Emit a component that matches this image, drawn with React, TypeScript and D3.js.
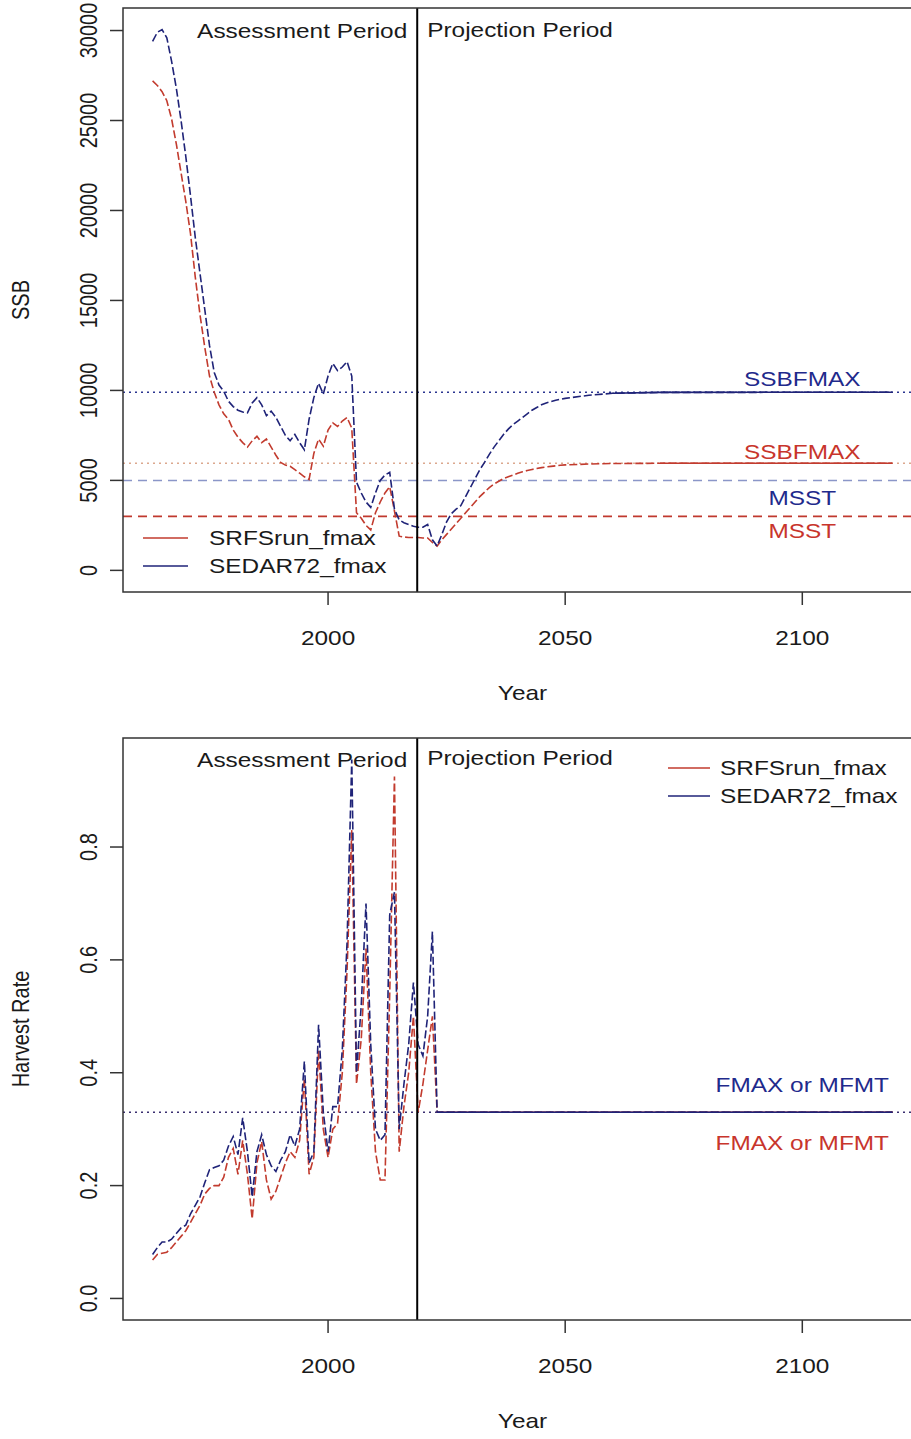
import React from 'react';
import * as d3 from 'd3';

const W = 911;
const H = 1439;

// ---------------- SSB panel data ----------------
const ssbYears = [
  1963, 1964, 1965, 1966, 1967, 1968, 1969, 1970, 1971, 1972,
  1973, 1974, 1975, 1976, 1977, 1978, 1979, 1980, 1981, 1982,
  1983, 1984, 1985, 1986, 1987, 1988, 1989, 1990, 1991, 1992,
  1993, 1994, 1995, 1996, 1997, 1998, 1999, 2000, 2001, 2002,
  2003, 2004, 2005, 2006, 2007, 2008, 2009, 2010, 2011, 2012,
  2013, 2014, 2015, 2016, 2017, 2018, 2019, 2020, 2021, 2022,
  2023, 2024, 2025, 2026, 2027, 2028, 2029, 2030, 2031, 2032,
  2033, 2034, 2035, 2036, 2037, 2038, 2039, 2040, 2041, 2042,
  2043, 2044, 2045, 2046, 2047, 2048, 2049, 2050, 2055, 2060,
  2070, 2119,
];
const ssbSRFS = [
  27200, 26950, 26600, 26100, 25100, 23700, 22100, 20500, 18700, 16300,
  14200, 12400, 10800, 9900, 9200, 8700, 8400, 7800, 7400, 7100,
  6850, 7200, 7450, 7100, 7300, 6850, 6400, 6000, 5850, 5780,
  5600, 5400, 5200, 5050, 6500, 7300, 6900, 7800, 8200, 8000,
  8300, 8500, 7900, 3200, 2900, 2500, 2250, 3200, 3800, 4300,
  4650, 3300, 1900, 1850, 1830, 1830, 1830, 1800, 1800, 1550,
  1350, 1700, 2000, 2300, 2600, 2900, 3200, 3500, 3800, 4100,
  4350, 4600, 4800, 4950, 5100, 5200, 5300, 5400, 5480, 5550,
  5610, 5660, 5710, 5750, 5780, 5810, 5840, 5860, 5910, 5940,
  5950, 5950,
];
const ssbSEDAR = [
  29400, 29900, 30050, 29600, 28300, 26800, 25000, 23000, 20800, 18500,
  16500, 14500, 12500, 11000, 10300, 9950, 9400, 9100, 8900, 8800,
  8750, 9300, 9600, 9200, 8600, 8850, 8500, 8000, 7500, 7200,
  7550, 7100, 6700, 8400, 9600, 10400, 9800, 10800, 11500, 11100,
  11300, 11600, 10800, 4900, 4300, 3800, 3500, 4300, 5000, 5300,
  5450, 3400, 2800, 2650, 2550, 2450, 2400, 2400, 2550, 1700,
  1350, 2000, 2700, 3150, 3400, 3600, 4100, 4600, 5100, 5600,
  6000, 6450, 6850, 7200, 7550, 7850, 8100, 8300, 8500, 8700,
  8900, 9050, 9200, 9300, 9380, 9450, 9510, 9560, 9730, 9840,
  9890, 9900,
];
const ssbYTicks = [0, 5000, 10000, 15000, 20000, 25000, 30000];
const ssbRefValues = [9900, 5950, 5000, 3000];
const ssbRefLabels = ['SSBFMAX', 'SSBFMAX', 'MSST', 'MSST'];
const ssbSolidFrom = [2070, 2060]; // SRFS, SEDAR: tail drawn solid

// ---------------- Harvest-rate panel data ----------------
const hrYears = [
  1963, 1964, 1965, 1966, 1967, 1968, 1969, 1970, 1971, 1972,
  1973, 1974, 1975, 1976, 1977, 1978, 1979, 1980, 1981, 1982,
  1983, 1984, 1985, 1986, 1987, 1988, 1989, 1990, 1991, 1992,
  1993, 1994, 1995, 1996, 1997, 1998, 1999, 2000, 2001, 2002,
  2003, 2004, 2005, 2006, 2007, 2008, 2009, 2010, 2011, 2012,
  2013, 2014, 2015, 2016, 2017, 2018, 2019, 2020, 2021, 2022,
  2023, 2119,
];
const hrSRFS = [
  0.068, 0.078, 0.08, 0.082, 0.09, 0.10, 0.11, 0.12, 0.135, 0.15,
  0.165, 0.185, 0.195, 0.20, 0.20, 0.215, 0.25, 0.266, 0.22, 0.28,
  0.22, 0.141, 0.24, 0.278, 0.21, 0.176, 0.19, 0.215, 0.24, 0.26,
  0.25, 0.28, 0.39, 0.22, 0.25, 0.44, 0.30, 0.25, 0.30, 0.31,
  0.40, 0.58, 0.83, 0.38, 0.46, 0.62, 0.40, 0.26, 0.21, 0.21,
  0.54, 0.925, 0.26, 0.34, 0.40, 0.50, 0.33, 0.38, 0.44, 0.50,
  0.33, 0.33,
];
const hrSEDAR = [
  0.078, 0.09, 0.10, 0.10, 0.105, 0.115, 0.125, 0.13, 0.15, 0.165,
  0.18, 0.205, 0.228, 0.232, 0.235, 0.245, 0.27, 0.287, 0.255, 0.32,
  0.26, 0.18, 0.26, 0.29, 0.255, 0.235, 0.225, 0.245, 0.26, 0.29,
  0.27, 0.30, 0.42, 0.24, 0.26, 0.485, 0.33, 0.26, 0.34, 0.34,
  0.44, 0.63, 0.955, 0.40, 0.52, 0.70, 0.45, 0.30, 0.28, 0.29,
  0.68, 0.72, 0.30, 0.38, 0.45, 0.56, 0.45, 0.43, 0.50, 0.65,
  0.33, 0.33,
];
const hrYTicks = [0, 0.2, 0.4, 0.6, 0.8];
const hrRefValues = [0.33];
const hrRefLabels = ['FMAX or MFMT', 'FMAX or MFMT'];
const hrSolidFrom = [2023, 2023];

// ---------------- shared ----------------
const xTicks = [2000, 2050, 2100];
const periodBoundary = 2018.8;
const seriesNames = ['SRFSrun_fmax', 'SEDAR72_fmax'];
const seriesColors = ['#c23b2e', '#1f2378'];
const periodLabels = ['Assessment Period', 'Projection Period'];

const FONT = "'Liberation Sans', Arial, Helvetica, sans-serif";
const SX = 1.22;
const FS = 20;
const INK = '#1a1a1a';
const BLUE_TXT = '#1f2a8c';
const RED_TXT = '#c8352c';

const LEFT = 123;
const RIGHT = 922;

function rRange(vals: number[]): [number, number] {
  const [a, b] = d3.extent(vals) as [number, number];
  const d = (b - a) * 0.04;
  return [a - d, b + d];
}

function HText(props: { x: number; y: number; anchor?: string; fill?: string; children: React.ReactNode }) {
  const { x, y, anchor = 'middle', fill = INK, children } = props;
  return (
    <text
      transform={`translate(${x},${y}) scale(${SX},1)`}
      textAnchor={anchor as any}
      fontSize={FS}
      fontFamily={FONT}
      fill={fill}
    >
      {children}
    </text>
  );
}

function VText(props: { x: number; y: number; children: React.ReactNode }) {
  const { x, y, children } = props;
  return (
    <text
      transform={`translate(${x},${y}) scale(${SX},1) rotate(-90)`}
      textAnchor="middle"
      fontSize={FS}
      fontFamily={FONT}
      fill={INK}
    >
      {children}
    </text>
  );
}

type PanelProps = {
  top: number;
  bottom: number;
  years: number[];
  series: number[][];
  yMin: number;
  yTicks: number[];
  yFmt: (v: number) => string;
  yTitle: string;
  solidFrom: number[];
  legend: { x1: number; x2: number; y: number; tx: number };
  periodY: [number, number];
  xScale: d3.ScaleLinear<number, number>;
  refLayer: (y: d3.ScaleLinear<number, number>) => React.ReactNode;
};

function Panel(p: PanelProps) {
  const all = p.series.flat().concat([p.yMin]);
  const y = d3.scaleLinear().domain(rRange(all)).range([p.bottom, p.top]);
  const x = p.xScale;
  const line = d3
    .line<[number, number]>()
    .x((d) => x(d[0]))
    .y((d) => y(d[1]));
  const xb = x(periodBoundary);

  return (
    <g>
      {p.refLayer(y)}
      {p.series.map((vals, i) => {
        const pts: [number, number][] = p.years.map((yr, j) => [yr, vals[j]]);
        const tail = pts.filter((d) => d[0] >= p.solidFrom[i]);
        return (
          <g key={i}>
            <path d={line(pts) || ''} fill="none" stroke={seriesColors[i]} strokeWidth={1.6} strokeDasharray="8,3" />
            <path d={line(tail) || ''} fill="none" stroke={seriesColors[i]} strokeWidth={1.6} />
          </g>
        );
      })}
      {/* period boundary */}
      <line x1={xb} x2={xb} y1={p.top} y2={p.bottom} stroke="#000" strokeWidth={2} />
      <HText x={xb - 10} y={p.periodY[0]} anchor="end">{periodLabels[0]}</HText>
      <HText x={xb + 10} y={p.periodY[1]} anchor="start">{periodLabels[1]}</HText>
      {/* box */}
      <rect x={LEFT} y={p.top} width={RIGHT - LEFT} height={p.bottom - p.top} fill="none" stroke="#333" strokeWidth={1.5} />
      {/* x axis */}
      {xTicks.map((t) => (
        <g key={t}>
          <line x1={x(t)} x2={x(t)} y1={p.bottom} y2={p.bottom + 13} stroke="#333" strokeWidth={1.5} />
          <HText x={x(t)} y={p.bottom + 53}>{String(t)}</HText>
        </g>
      ))}
      <HText x={(LEFT + RIGHT) / 2} y={p.bottom + 108}>Year</HText>
      {/* y axis */}
      {p.yTicks.map((t) => (
        <g key={t}>
          <line x1={LEFT - 13} x2={LEFT} y1={y(t)} y2={y(t)} stroke="#333" strokeWidth={1.5} />
          <VText x={97} y={y(t)}>{p.yFmt(t)}</VText>
        </g>
      ))}
      <VText x={29} y={(p.top + p.bottom) / 2}>{p.yTitle}</VText>
      {/* legend */}
      {seriesNames.map((n, i) => (
        <g key={n}>
          <line x1={p.legend.x1} x2={p.legend.x2} y1={p.legend.y + i * 28} y2={p.legend.y + i * 28} stroke={seriesColors[i]} strokeWidth={1.6} />
          <HText x={p.legend.tx} y={p.legend.y + i * 28 + 7} anchor="start">{n}</HText>
        </g>
      ))}
    </g>
  );
}

export default function App() {
  const x = d3.scaleLinear().domain(rRange(ssbYears)).range([LEFT, RIGHT]);
  const labelX = x(2100);

  const ssbRefs = (y: d3.ScaleLinear<number, number>) => (
    <g>
      <line x1={LEFT} x2={RIGHT} y1={y(ssbRefValues[0])} y2={y(ssbRefValues[0])} stroke="#2b3590" strokeWidth={1.6} strokeDasharray="2,4" />
      <line x1={LEFT} x2={RIGHT} y1={y(ssbRefValues[1])} y2={y(ssbRefValues[1])} stroke="#dca88e" strokeWidth={1.6} strokeDasharray="2,4" />
      <line x1={LEFT} x2={RIGHT} y1={y(ssbRefValues[2])} y2={y(ssbRefValues[2])} stroke="#8b96c8" strokeWidth={1.5} strokeDasharray="9,6" />
      <line x1={LEFT} x2={RIGHT} y1={y(ssbRefValues[3])} y2={y(ssbRefValues[3])} stroke="#c0392e" strokeWidth={1.6} strokeDasharray="9,6" />
      <HText x={labelX} y={y(ssbRefValues[0]) - 6} fill={BLUE_TXT}>{ssbRefLabels[0]}</HText>
      <HText x={labelX} y={y(ssbRefValues[1]) - 4} fill={RED_TXT}>{ssbRefLabels[1]}</HText>
      <HText x={labelX} y={y(ssbRefValues[2]) + 25} fill={BLUE_TXT}>{ssbRefLabels[2]}</HText>
      <HText x={labelX} y={y(ssbRefValues[3]) + 22} fill={RED_TXT}>{ssbRefLabels[3]}</HText>
    </g>
  );

  const hrRefs = (y: d3.ScaleLinear<number, number>) => (
    <g>
      <line x1={LEFT} x2={RIGHT} y1={y(hrRefValues[0])} y2={y(hrRefValues[0])} stroke="#3a2f70" strokeWidth={1.6} strokeDasharray="2,4" />
      <HText x={labelX} y={y(hrRefValues[0]) - 20} fill={BLUE_TXT}>{hrRefLabels[0]}</HText>
      <HText x={labelX} y={y(hrRefValues[0]) + 38} fill={RED_TXT}>{hrRefLabels[1]}</HText>
    </g>
  );

  return (
    <svg
      width={W}
      height={H}
      viewBox={`0 0 ${W} ${H}`}
      style={{ position: 'absolute', left: 0, top: 0, display: 'block', background: '#fff' }}
    >
      <rect x={0} y={0} width={W} height={H} fill="#fff" />
      <Panel
        top={8}
        bottom={592}
        years={ssbYears}
        series={[ssbSRFS, ssbSEDAR]}
        yMin={0}
        yTicks={ssbYTicks}
        yFmt={(v) => String(v)}
        yTitle="SSB"
        solidFrom={ssbSolidFrom}
        legend={{ x1: 143, x2: 188, y: 538, tx: 209 }}
        periodY={[38, 37]}
        xScale={x}
        refLayer={ssbRefs}
      />
      <Panel
        top={738}
        bottom={1320}
        years={hrYears}
        series={[hrSRFS, hrSEDAR]}
        yMin={0}
        yTicks={hrYTicks}
        yFmt={(v) => d3.format('.1f')(v)}
        yTitle="Harvest Rate"
        solidFrom={hrSolidFrom}
        legend={{ x1: 668, x2: 710, y: 768, tx: 720 }}
        periodY={[767, 765]}
        xScale={x}
        refLayer={hrRefs}
      />
    </svg>
  );
}
